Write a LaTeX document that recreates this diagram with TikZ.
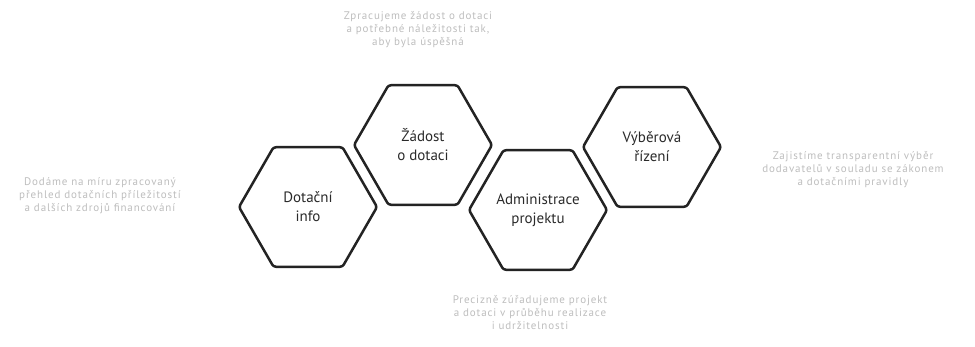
\documentclass[tikz,border=0pt]{standalone}
\usepackage{fontspec}
\setmainfont{PT Sans}
\newfontfamily\descfont[LetterSpace=8]{PT Sans}
\usetikzlibrary{shapes.geometric}
\definecolor{hexline}{HTML}{232323}
\definecolor{hextext}{HTML}{2A2A2A}
\definecolor{desc}{HTML}{BDBDBD}
\tikzset{
  hexbox/.style={shape=regular polygon, regular polygon sides=6, minimum size=138pt,
    inner sep=0pt, draw=hexline, line width=2.5pt, rounded corners=2.5pt,
    text=hextext, align=center, font=\fontsize{15}{19}\selectfont},
  desctext/.style={text=desc, align=center, font=\descfont\fontsize{11}{13}\selectfont, inner sep=0pt}
}
\begin{document}
\begin{tikzpicture}[x=1pt,y=-1pt]
\useasboundingbox (0,0) rectangle (975,346);
\node[hexbox] (info) at (308,207) {Dotační\\info};
\node[hexbox] (zadost) at (423,145) {Žádost\\o dotaci};
\node[hexbox] (admin) at (538,210) {Administrace\\projektu};
\node[hexbox] (vyber) at (652,147) {Výběrová\\řízení};
\node[desctext] (dzadost) at (418,30) {Zpracujeme žádost o dotaci\\a potřebné náležitosti tak,\\aby byla úspěšná};
\node[desctext] (dinfo) at (100,196) {Dodáme na míru zpracovaný\\přehled dotačních příležitostí\\a dalších zdrojů financování};
\node[desctext] (dvyber) at (853,170) {Zajistíme transparentní výběr\\dodavatelů v souladu se zákonem\\a dotačními pravidly};
\node[desctext] (dadmin) at (530,313) {Precizně zúřadujeme projekt\\a dotaci v průběhu realizace\\i udržitelnosti};
\end{tikzpicture}
\end{document}
